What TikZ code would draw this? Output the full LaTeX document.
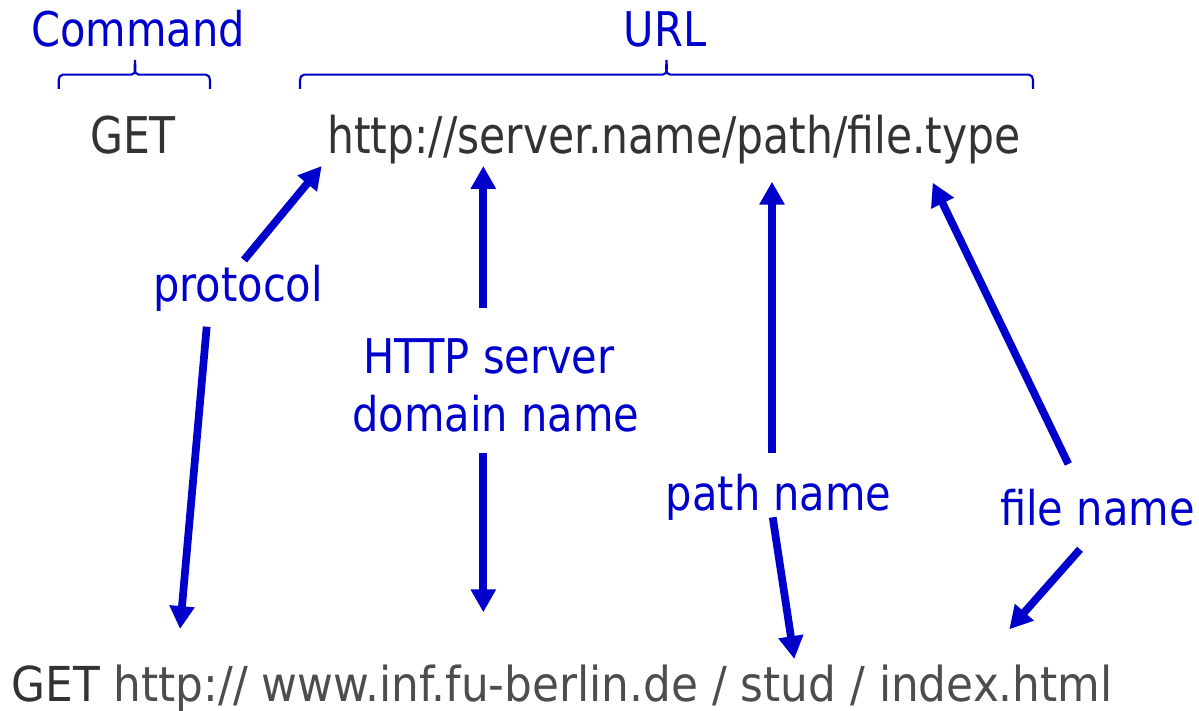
\documentclass[tikz,border=0pt]{standalone}
\usepackage{fontspec}
\setmainfont[FakeStretch=0.84]{DejaVu Sans}
\newfontfamily\lblfont[FakeStretch=0.87]{DejaVu Sans}
\newfontfamily\exfont[FakeStretch=0.91]{DejaVu Sans}
\usetikzlibrary{arrows.meta}
\definecolor{urlblue}{HTML}{0000CC}
\definecolor{urldark}{HTML}{333333}
\definecolor{urlgray}{HTML}{4D4D4D}
\begin{document}
\begin{tikzpicture}[
    part/.style={text=urlblue, font=\lblfont\fontsize{13.6}{16}\selectfont, inner sep=0pt, anchor=base},
    req/.style={text=urldark, font=\fontsize{14.4}{17}\selectfont, inner sep=0pt, anchor=base},
    ptr/.style={-{Triangle[width=6.8pt,length=6.5pt]}, line width=2.2pt, draw=urlblue},
    brc/.style={draw=urlblue, line width=0.6pt}
]
    \useasboundingbox (0,0) rectangle (11.99,-7.11);

    % Request line and its parts
    \node[req] (cmd) at (1.33,-1.54) {GET};
    \node[req] (url) at (6.74,-1.54) {http://server.name/path/file.type};
    \node[part] (cmdlbl) at (1.38,-0.467) {Command};
    \node[part] (urllbl) at (6.65,-0.467) {URL};

    % Braces
    \draw[brc] (0.587,-0.89) -- (0.587,-0.80) to[out=90,in=180] (0.627,-0.747)
        -- (1.31,-0.747) to[out=0,in=-90] (1.35,-0.60) to[out=-90,in=180] (1.39,-0.747)
        -- (2.06,-0.747) to[out=0,in=90] (2.10,-0.80) -- (2.10,-0.89);
    \draw[brc] (3.00,-0.89) -- (3.00,-0.80) to[out=90,in=180] (3.04,-0.747)
        -- (6.625,-0.747) to[out=0,in=-90] (6.665,-0.60) to[out=-90,in=180] (6.705,-0.747)
        -- (10.29,-0.747) to[out=0,in=90] (10.33,-0.80) -- (10.33,-0.89);

    % Labels
    \node[part] (prot) at (2.38,-3.017) {protocol};
    \node[part] (srv) at (4.89,-3.733) {HTTP server};
    \node[part] (dom) at (4.96,-4.317) {domain name};
    \node[part] (path) at (7.787,-5.10) {path name};
    \node[part] (file) at (10.974,-5.25) {file name};

    % Example request
    \node[req, text=urlgray, font=\exfont\fontsize{13.7}{16}\selectfont] (ex) at (5.62,-7.01)
        {{\color{urldark}GET} http:// www.inf.fu-berlin.de / stud / index.html};

    % Arrow ends
    \coordinate (protup) at (2.44,-2.60);   \coordinate (protin) at (3.217,-1.66);
    \coordinate (protdn) at (2.067,-3.267); \coordinate (protex) at (1.80,-6.29);
    \coordinate (srvup) at (4.833,-3.08);   \coordinate (srvin) at (4.833,-1.66);
    \coordinate (domdn) at (4.833,-4.533);  \coordinate (domex) at (4.833,-6.123);
    \coordinate (pathup) at (7.72,-4.527);  \coordinate (pathin) at (7.72,-1.817);
    \coordinate (pathdn) at (7.727,-5.173); \coordinate (pathex) at (7.943,-6.59);
    \coordinate (fileup) at (10.683,-4.64); \coordinate (filein) at (9.327,-1.827);
    \coordinate (filedn) at (10.80,-5.493); \coordinate (fileex) at (10.093,-6.293);

    % Arrows
    \draw[ptr] (protup) -- (protin);
    \draw[ptr] (protdn) -- (protex);
    \draw[ptr] (srvup) -- (srvin);
    \draw[ptr] (domdn) -- (domex);
    \draw[ptr] (pathup) -- (pathin);
    \draw[ptr] (pathdn) -- (pathex);
    \draw[ptr] (fileup) -- (filein);
    \draw[ptr] (filedn) -- (fileex);
\end{tikzpicture}
\end{document}
